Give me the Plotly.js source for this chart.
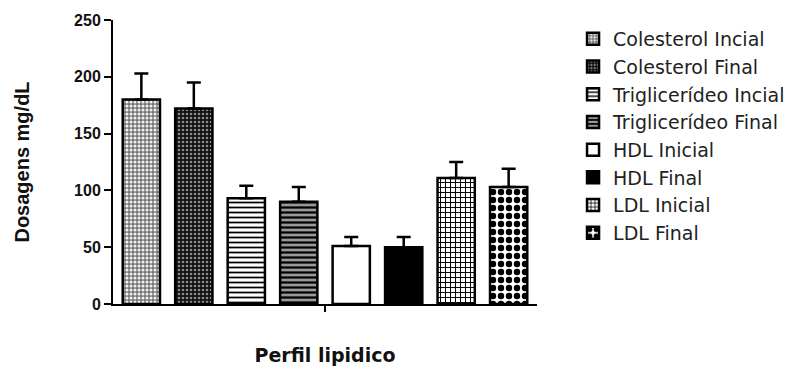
<!DOCTYPE html>
<html>
<head>
<meta charset="utf-8">
<script src="https://cdn.plot.ly/plotly-3.0.1.min.js"></script>
<style>html,body{margin:0;padding:0;background:#fff;}#chart{width:803px;height:370px;}</style>
</head>
<body>
<div id="chart"></div>
<script>
const category = ["Perfil lipidico"];
const seriesNames = ["Colesterol Incial", "Colesterol Final", "Triglicerídeo Incial", "Triglicerídeo Final", "HDL Inicial", "HDL Final", "LDL Inicial", "LDL Final"];
const meanValues = [180, 172, 93, 90, 51, 50, 111, 103];
const sdValues = [23, 23, 11, 13, 8, 9, 14, 16];
const yTicks = [0, 50, 100, 150, 200, 250];

const patterns = [
  {shape: ".", fgcolor: "#f2f2f2", bgcolor: "#777", size: 4, solidity: 0.45, fillmode: "replace"},
  {shape: ".", fgcolor: "#8a8a8a", bgcolor: "#111", size: 4, solidity: 0.35, fillmode: "replace"},
  {shape: "-", fgcolor: "#000", bgcolor: "#fff", size: 5, solidity: 0.35, fillmode: "replace"},
  {shape: "-", fgcolor: "#000", bgcolor: "#999", size: 5, solidity: 0.45, fillmode: "replace"},
  {shape: "", fgcolor: "#000", bgcolor: "#fff"},
  {shape: "", fgcolor: "#000", bgcolor: "#000"},
  {shape: "+", fgcolor: "#000", bgcolor: "#fff", size: 5, solidity: 0.35, fillmode: "replace"},
  {shape: ".", fgcolor: "#000", bgcolor: "#fff", size: 8, solidity: 0.5, fillmode: "replace"}
];
const fills = ["#888", "#222", "#fff", "#999", "#fff", "#000", "#fff", "#fff"];

const traces = seriesNames.map((name, i) => ({
  type: "bar",
  name: name,
  legendgroup: name,
  x: category,
  y: [meanValues[i]],
  error_y: {type: "data", symmetric: false, array: [sdValues[i]], arrayminus: [0], color: "#000", thickness: 2.5, width: 7},
  marker: {color: fills[i], line: {color: "#000", width: 2.5}, pattern: patterns[i]}
}));

const font = "Liberation Sans, Arial, sans-serif";
const wide = "DejaVu Sans, Verdana, sans-serif";
const layout = {
  width: 803, height: 370,
  margin: {l: 113, r: 266, t: 20, b: 66},
  paper_bgcolor: "#fff", plot_bgcolor: "#fff",
  barmode: "group", bargap: 0.01, bargroupgap: 0.29,
  showlegend: true,
  font: {family: font, color: "#000"},
  xaxis: {
    type: "category", showticklabels: false, ticks: "outside", ticklen: 6, tickwidth: 2, tickcolor: "#000",
    showline: true, linecolor: "#000", linewidth: 2, showgrid: false, zeroline: false,
    title: {text: "Perfil lipidico", font: {family: wide, size: 19, weight: "bold", color: "#111"}, standoff: 38}
  },
  yaxis: {
    range: [0, 250], tickvals: yTicks, ticktext: yTicks.map(String),
    ticks: "outside", ticklen: 7, tickwidth: 2, tickcolor: "#000",
    tickfont: {family: font, size: 16, weight: "bold", color: "#111"},
    showline: true, linecolor: "#000", linewidth: 2, showgrid: false, zeroline: false,
    title: {text: "Dosagens mg/dL", font: {family: font, size: 20, weight: "bold", color: "#111"}, standoff: 39}
  },
  legend: {
    x: 1.085, y: 1.0, xanchor: "left", yanchor: "top",
    font: {family: wide, size: 19, color: "#222"},
    bgcolor: "rgba(0,0,0,0)", tracegroupgap: 0, itemwidth: 30
  }
};

Plotly.newPlot("chart", traces, layout, {displayModeBar: false, staticPlot: true});
</script>
</body>
</html>
